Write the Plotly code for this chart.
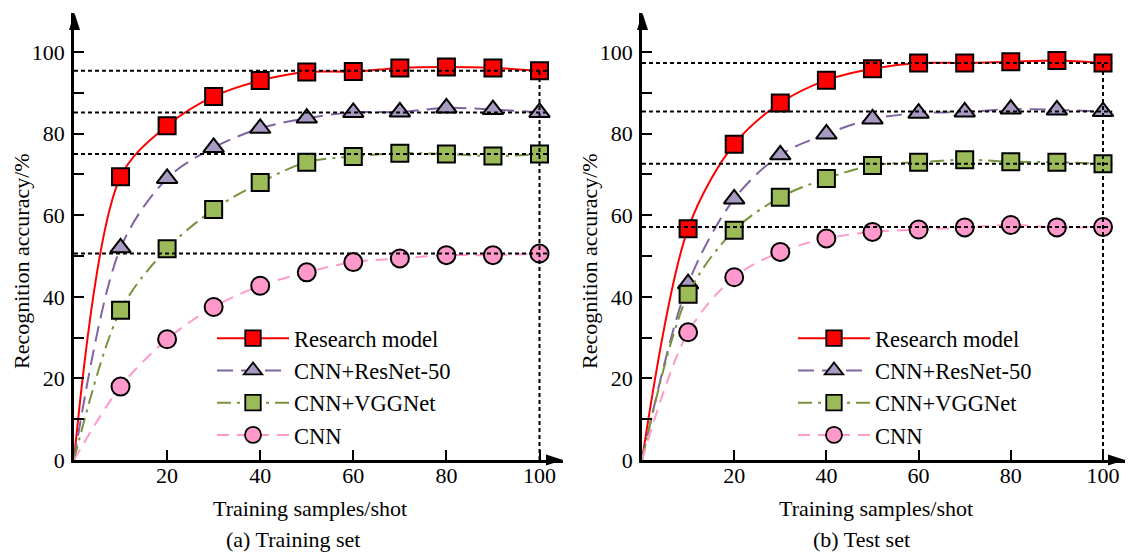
import plotly.graph_objects as go

# ---------------- data ----------------
samples = [10, 20, 30, 40, 50, 60, 70, 80, 90, 100]
series_names = ["Research model", "CNN+ResNet-50", "CNN+VGGNet", "CNN"]

train_research = [69.4, 81.9, 89.1, 93.0, 95.1, 95.2, 96.1, 96.3, 96.1, 95.4]
train_resnet = [52.0, 69.0, 76.6, 81.3, 83.8, 85.2, 85.3, 86.3, 85.9, 85.2]
train_vgg = [36.7, 51.8, 61.4, 68.0, 73.0, 74.4, 75.2, 75.0, 74.5, 75.0]
train_cnn = [18.0, 29.6, 37.5, 42.7, 46.0, 48.5, 49.4, 50.2, 50.2, 50.6]

test_research = [56.7, 77.4, 87.5, 93.1, 95.9, 97.3, 97.3, 97.6, 97.9, 97.3]
test_resnet = [43.2, 64.0, 74.8, 79.9, 83.6, 85.0, 85.3, 86.0, 85.8, 85.4]
test_vgg = [40.6, 56.3, 64.4, 69.0, 72.2, 73.0, 73.6, 73.1, 73.0, 72.6]
test_cnn = [31.3, 44.8, 51.0, 54.3, 55.9, 56.5, 57.0, 57.6, 57.0, 57.1]

origin_x = 0
origin_y = 0

x_tick_vals = [20, 40, 60, 80, 100]
x_tick_text = ["20", "40", "60", "80", "100"]
y_tick_vals = [0, 10, 20, 30, 40, 50, 60, 70, 80, 90, 100]
y_tick_text = ["0", "", "20", "", "40", "", "60", "", "80", "", "100"]

x_title = "Training samples/shot"
y_title = "Recognition accuracy/%"
panel_captions = ["(a) Training set", "(b) Test set"]

# ---------------- style ----------------
W, H = 1131, 555
FONT = "Liberation Serif"
FS = 22

line_colors = ["#ff0000", "#8064a2", "#77933c", "#ff99cc"]
fill_colors = ["#ff0000", "#a89ac2", "#9bbb59", "#ff99cc"]
symbols = ["square", "triangle-up", "square", "circle"]
dashes = ["solid", "16px,8px", "14px,6px,3px,6px", "12px,8px"]
marker_sizes = [17, 18, 17, 18]
DOT_END = 102


def px_x(p):
    return p / W


def px_y(p):
    return (H - p) / H


panels = [
    dict(xa="x", ya="y", xname="xaxis", yname="yaxis", legend="legend",
         data=[train_research, train_resnet, train_vgg, train_cnn],
         x0=74, x100=539.5, xend=563, caption_x=293, xtitle_x=310, ytitle_x=21,
         leg_x=212),
    dict(xa="x2", ya="y2", xname="xaxis2", yname="yaxis2", legend="legend2",
         data=[test_research, test_resnet, test_vgg, test_cnn],
         x0=642, x100=1103, xend=1125, caption_x=861, xtitle_x=876, ytitle_x=589,
         leg_x=793),
]
Y0, Y100, YTOP = 460, 52, 13

fig = go.Figure()
layout = dict(
    width=W, height=H, margin=dict(l=0, r=0, t=0, b=0, pad=0, autoexpand=False),
    paper_bgcolor="white", plot_bgcolor="white",
    font=dict(family=FONT, size=FS, color="black"),
    showlegend=True,
)
annotations = []
shapes = []

for p in panels:
    # series
    for i, name in enumerate(series_names):
        vals = p["data"][i]
        fig.add_trace(go.Scatter(
            x=[origin_x] + samples, y=[origin_y] + vals,
            mode="lines+markers", name=name,
            line=dict(color=line_colors[i], width=2, dash=dashes[i], shape="spline", smoothing=0.9),
            marker=dict(symbol=symbols[i], size=[0] + [marker_sizes[i]] * len(samples),
                        color=fill_colors[i], opacity=1,
                        line=dict(color="black", width=[0] + [2] * len(samples))),
            xaxis=p["xa"], yaxis=p["ya"], legend=p["legend"], cliponaxis=False,
        ))
    # dotted reference lines at the final values
    for i in range(len(series_names)):
        last = p["data"][i][-1]
        fig.add_trace(go.Scatter(
            x=[origin_x, DOT_END], y=[last, last], mode="lines",
            line=dict(color="black", width=2, dash="4px,3px"),
            showlegend=False, hoverinfo="skip", xaxis=p["xa"], yaxis=p["ya"], cliponaxis=False,
        ))
    fig.add_trace(go.Scatter(
        x=[samples[-1], samples[-1]], y=[origin_y, p["data"][0][-1]], mode="lines",
        line=dict(color="black", width=2, dash="4px,3px"),
        showlegend=False, hoverinfo="skip", xaxis=p["xa"], yaxis=p["ya"], cliponaxis=False,
    ))

    unit = (p["x100"] - p["x0"]) / 100.0
    xmax = (p["xend"] - p["x0"]) / unit
    yunit = (Y0 - Y100) / 100.0
    ymax = (Y0 - YTOP) / yunit
    layout[p["xname"]] = dict(
        domain=[px_x(p["x0"]), px_x(p["xend"])], range=[0, xmax], anchor=p["ya"],
        showgrid=False, zeroline=False, showline=True, linecolor="black", linewidth=2.5,
        ticks="inside", ticklen=10, tickwidth=2, tickcolor="black",
        tickvals=x_tick_vals, ticktext=x_tick_text, ticklabelstandoff=-6, automargin=False,
        tickfont=dict(family=FONT, size=FS, color="black"), fixedrange=True,
    )
    layout[p["yname"]] = dict(
        domain=[px_y(Y0), px_y(YTOP)], range=[0, ymax], anchor=p["xa"],
        showgrid=False, zeroline=False, showline=True, linecolor="black", linewidth=2.5,
        ticks="inside", ticklen=10, tickwidth=2, tickcolor="black",
        tickvals=y_tick_vals, ticktext=y_tick_text, ticklabelstandoff=2, automargin=False,
        tickfont=dict(family=FONT, size=FS, color="black"), fixedrange=True,
    )
    layout[p["legend"]] = dict(
        x=px_x(p["leg_x"]), y=px_y(317), xanchor="left", yanchor="top",
        bgcolor="rgba(0,0,0,0)", borderwidth=0, itemwidth=72,
        font=dict(family=FONT, size=22.5, color="black"), tracegroupgap=0,
        itemclick=False, itemdoubleclick=False,
    )

    # arrow heads (decoration)
    ax0 = p["x0"] + 0.5
    shapes.append(dict(
        type="path", xref="paper", yref="paper", fillcolor="black", line=dict(width=0),
        path=f"M {px_x(ax0)} {px_y(YTOP)} L {px_x(ax0 - 5.5)} {px_y(YTOP + 17)} L {px_x(ax0 + 5.5)} {px_y(YTOP + 17)} Z",
    ))
    shapes.append(dict(
        type="path", xref="paper", yref="paper", fillcolor="black", line=dict(width=0),
        path=f"M {px_x(p['xend'])} {px_y(Y0)} L {px_x(p['xend'] - 17)} {px_y(Y0 - 5.5)} L {px_x(p['xend'] - 17)} {px_y(Y0 + 5.5)} Z",
    ))

    annotations.append(dict(text=y_title, textangle=-90, x=px_x(p["ytitle_x"]), y=px_y(261),
                            xref="paper", yref="paper", showarrow=False,
                            xanchor="center", yanchor="middle", font=dict(family=FONT, size=FS)))
    annotations.append(dict(text=x_title, x=px_x(p["xtitle_x"]), y=px_y(508),
                            xref="paper", yref="paper", showarrow=False,
                            xanchor="center", yanchor="middle", font=dict(family=FONT, size=FS)))

for k, p in enumerate(panels):
    annotations.append(dict(text=panel_captions[k], x=px_x(p["caption_x"]), y=px_y(539),
                            xref="paper", yref="paper", showarrow=False,
                            xanchor="center", yanchor="middle", font=dict(family=FONT, size=FS)))

layout["annotations"] = annotations
layout["shapes"] = shapes
fig.update_layout(**layout)

fig.write_html("out.html", config={"displayModeBar": False},
               post_script="document.body.style.margin='0';document.body.style.overflow='hidden';")
